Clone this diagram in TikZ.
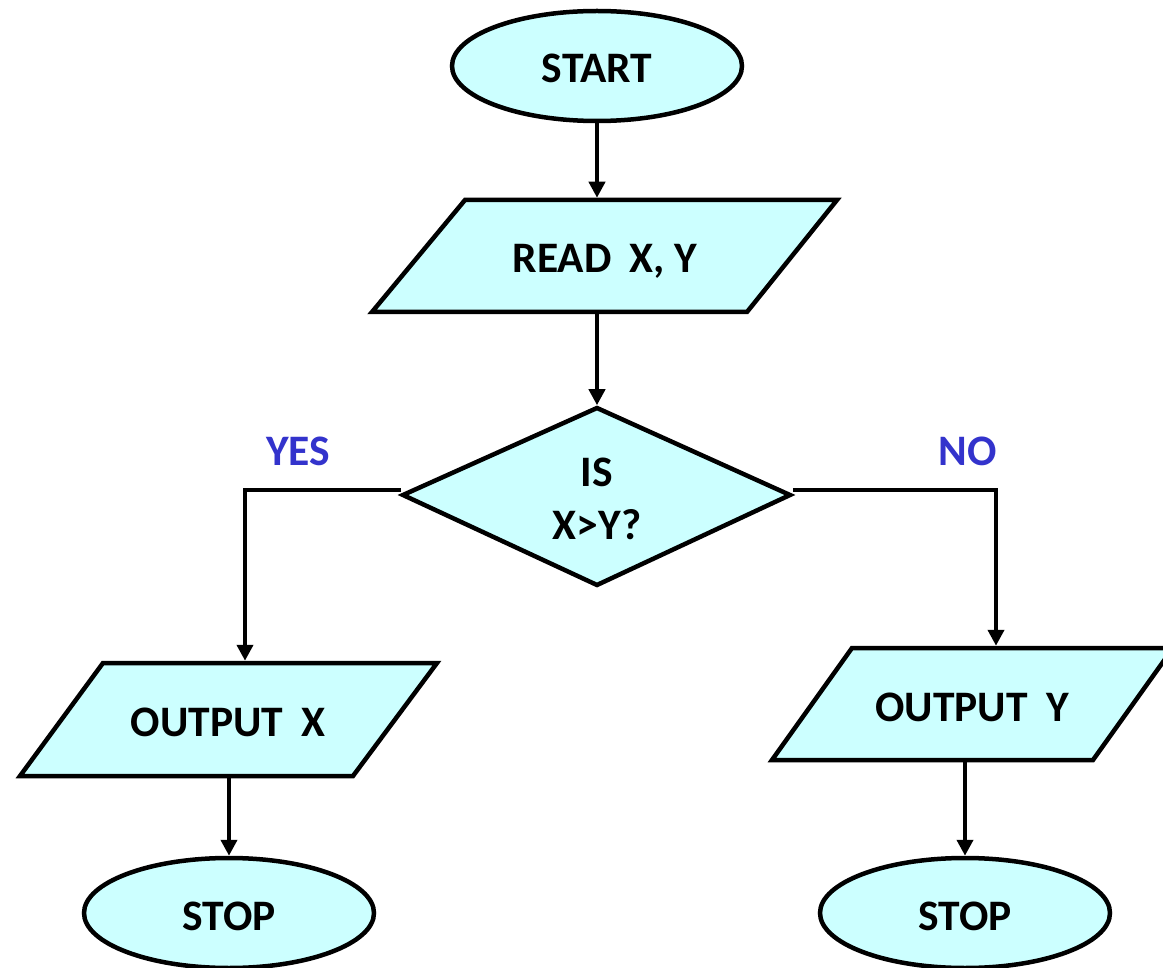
\documentclass[tikz,border=0pt]{standalone}
\usepackage{fontspec}
\setmainfont{Carlito}
\usetikzlibrary{arrows.meta,shapes.geometric}
\definecolor{fillc}{HTML}{CCFFFF}
\definecolor{lblc}{HTML}{3333CC}
\newcommand{\gapw}{\hspace{0.42em}}
\begin{document}
\begin{tikzpicture}[x=1pt,y=-1pt,line width=4.5pt,
  every node/.style={font=\fontsize{43.5}{53}\selectfont\bfseries},
  capbox/.style={text height=34pt, text depth=0pt},
  term/.style={ellipse, draw, fill=fillc, minimum width=290pt, minimum height=110pt, inner sep=0pt, capbox},
  ghost/.style={inner sep=0pt, draw=none},
  shapeline/.style={draw, fill=fillc, line join=miter},
  conn/.style={-{Triangle[length=16pt,width=16pt]}, line width=4.5pt},
  lbl/.style={text=lblc}]
\useasboundingbox (0,0) rectangle (1163,968);
% START
\node[term] (start) at (597,66) {START};
% READ
\draw[shapeline] (465,200) -- (837,200) -- (747,312) -- (372,312) -- cycle;
\node[ghost, capbox, minimum width=375pt, minimum height=112pt] (read) at (605,256) {READ\gapw X, Y};
% decision
\draw[shapeline] (597,408) -- (790,495) -- (597,585) -- (403,495) -- cycle;
\node[ghost, minimum width=387pt, minimum height=177pt] (dec) at (597,496) {};
\node[ghost, align=center] (dectext) at (597,499) {IS\\X>Y?};
% outputs
\draw[shapeline] (103,663) -- (437,663) -- (353,776) -- (20,776) -- cycle;
\node[ghost, capbox, minimum width=334pt, minimum height=113pt] (outx) at (228,719.5) {OUTPUT\gapw X};
\draw[shapeline] (852,648) -- (1173,648) -- (1093,760) -- (772,760) -- cycle;
\node[ghost, capbox, minimum width=321pt, minimum height=112pt] (outy) at (972,704) {OUTPUT\gapw Y};
% stops
\node[term] (stopx) at (229,913) {STOP};
\node[term] (stopy) at (965,913) {STOP};
% labels
\node[lbl] (yes) at (298,451) {YES};
\node[lbl] (no) at (968,451) {NO};
% connectors
\draw[conn] (start.south) -- (start.south |- read.north);
\draw[conn] (start.south |- read.south) -- (dec.north);
\draw[conn] ([yshift=6pt]dec.west) -| ([xshift=17pt]outx.north);
\draw[conn] ([yshift=6pt]dec.east) -| ([xshift=24pt]outy.north);
\draw[conn] (stopx.north |- outx.south) -- (stopx.north);
\draw[conn] (stopy.north |- outy.south) -- (stopy.north);
\end{tikzpicture}
\end{document}
